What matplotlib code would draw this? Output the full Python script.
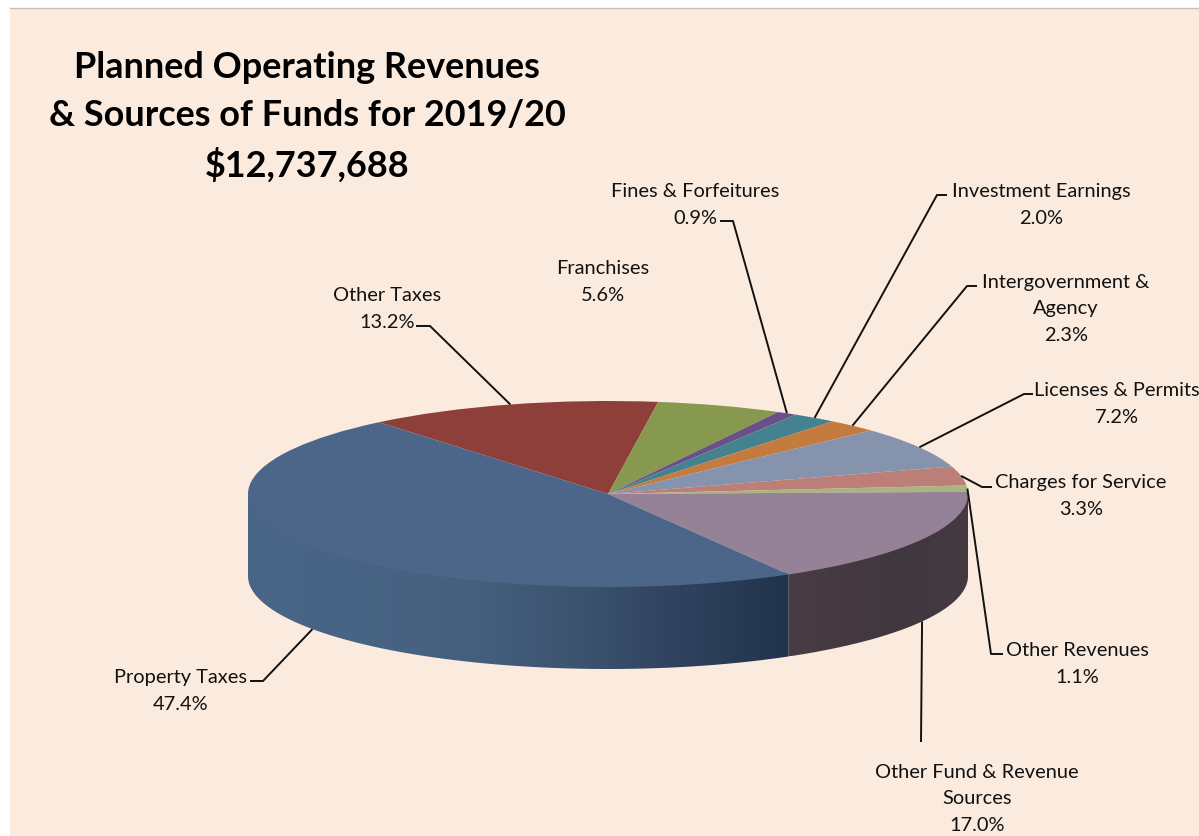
import numpy as np
import matplotlib
matplotlib.use("Agg")
import matplotlib.pyplot as plt
from matplotlib.colors import LinearSegmentedColormap
from matplotlib.patches import Polygon

# Chart data
categories = ["Other Taxes", "Franchises", "Fines & Forfeitures", "Investment Earnings",
              "Intergovernment &\nAgency", "Licenses & Permits", "Charges for Service",
              "Other Revenues", "Other Fund & Revenue\nSources", "Property Taxes"]
values = [13.2, 5.6, 0.9, 2.0, 2.3, 7.2, 3.3, 1.1, 17.0, 47.4]
colors = ["#8E3F39", "#87984F", "#6A5088", "#44828F", "#C47B3E",
          "#8593AD", "#BB7F77", "#A9B482", "#958296", "#4B6688"]
title = "Planned Operating Revenues\n& Sources of Funds for 2019/20\n$12,737,688"

# Layout in reference pixels
W, H = 1199, 837
cx, cy, rx, ry, depth = 608, 495, 360, 93, 82
# label centre (x, y), then elbow and end of the leader next to the text
label_pos = [(387, 309), (603, 282), (695, 205), (1041, 205), (1066, 309),
             (1117, 404), (1081, 496), (1077, 664), (977, 799), (181, 691)]
elbows = [[(430, 327), (416, 327)], None, [(733, 222), (720, 222)], [(937, 196), (947, 196)],
          [(967, 287), (977, 287)], [(1024, 395), (1033, 395)], [(982, 488), (992, 488)],
          [(991, 655), (1003, 655)], [(921, 743)], [(263, 682), (250, 682)]]


def ux(x):
    return (x - cx) / rx


def uy(y):
    return (cy - y) / ry


plt.rcParams["font.family"] = ["Lato", "DejaVu Sans"]
fig = plt.figure(figsize=(W / 100, H / 100), dpi=100, facecolor="white")
ax = fig.add_axes([10 / W, 0, (W - 10) / W, (H - 9) / H])

# Top face, squashed into an ellipse by the axes scale
wedges, _ = ax.pie(values, colors=colors, startangle=129.5, counterclock=False, radius=1,
                   center=(0, 0), frame=True, wedgeprops={"zorder": 3, "linewidth": 0})
ax.set_aspect("auto")
ax.set_xlim(ux(10), ux(W))
ax.set_ylim(uy(H), uy(9))
ax.set_facecolor("#FBEBDE")
ax.set_xticks([])
ax.set_yticks([])
for side in ["left", "right", "bottom"]:
    ax.spines[side].set_visible(False)
ax.spines["top"].set_color("#CDBDB0")
ax.spines["top"].set_linewidth(1.0)

# Side wall of the two front slices, its top edge tucked under the top face
d = depth / ry
wall_shades = {
    9: ["#4A6686", "#486484", "#45607F", "#3D5471", "#2F425F", "#22344B"],
    8: ["#4A3E46", "#443940", "#41373E", "#453A42"],
}
for i, shades in wall_shades.items():
    t1 = max(wedges[i].theta1 % 360, 180)
    t2 = wedges[i].theta2 % 360
    if t2 <= t1:
        t2 += 360
    t2 = min(t2, 360)
    t = np.radians(np.linspace(t1, t2, 200))
    xs, ys = np.cos(t), np.sin(t)
    pts = np.column_stack([np.r_[xs, xs[::-1]], np.r_[ys + 0.03, ys[::-1] - d]])
    clip = Polygon(pts, transform=ax.transData, facecolor="none", edgecolor="none")
    ax.add_patch(clip)
    cmap = LinearSegmentedColormap.from_list("wall", shades)
    im = ax.imshow(np.linspace(0, 1, 256).reshape(1, -1), cmap=cmap, aspect="auto", zorder=2,
                   extent=(xs.min(), xs.max(), ys.min() - d, ys.max() + 0.03), interpolation="bilinear")
    im.set_clip_path(clip)
ax.set_xlim(ux(10), ux(W))
ax.set_ylim(uy(H), uy(9))

# Labels and leader lines, which start at the middle of each slice's outer edge
for i, w in enumerate(wedges):
    text_x, text_y = label_pos[i]
    ax.text(ux(text_x), uy(text_y), f"{categories[i]}\n{values[i]:.1f}%", ha="center", va="center",
            fontsize=14.4, color="#111111", linespacing=1.67, zorder=6, clip_on=True)
    if elbows[i] is None:
        continue
    mid = np.radians((w.theta1 + w.theta2) / 2)
    ax_x, ax_y = np.cos(mid), np.sin(mid)
    if ax_y < -0.1:
        ax_y -= d
    path_x = [ax_x] + [ux(p[0]) for p in elbows[i]]
    path_y = [ax_y] + [uy(p[1]) for p in elbows[i]]
    ax.plot(path_x, path_y, color="#111111", lw=1.4, zorder=5, solid_capstyle="butt")

ax.text(ux(307), uy(117), title, ha="center", va="center", fontsize=25.9, fontweight="bold",
        color="black", linespacing=1.55, zorder=6)

fig.savefig("out.png", dpi=100, facecolor="white")
